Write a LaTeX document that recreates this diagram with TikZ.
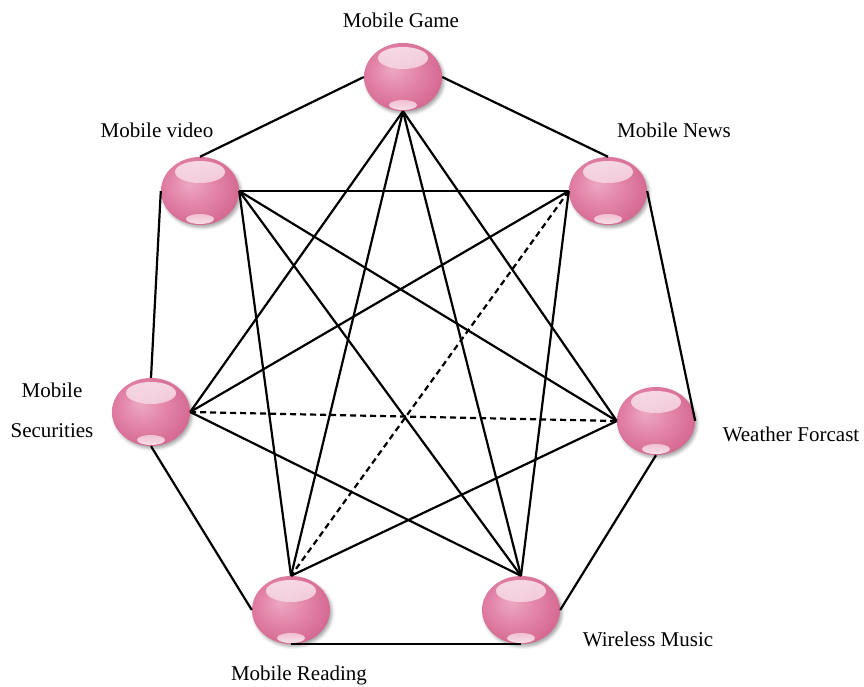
\documentclass[tikz,border=0pt]{standalone}
\usepackage{fontspec}
\setmainfont{Liberation Serif}
\usetikzlibrary{shapes.geometric,shadows.blur}
\definecolor{ballhi}{HTML}{EDA8C3}
\definecolor{ballmid}{HTML}{E386A9}
\definecolor{balllo}{HTML}{D4658F}
\pgfdeclareradialshading{pinkball}{\pgfpoint{-7bp}{6bp}}{%
  color(0bp)=(ballhi); color(14bp)=(ballmid); color(30bp)=(balllo); color(50bp)=(balllo)}
\tikzset{
  ball/.style={ellipse, minimum width=78pt, minimum height=68pt, inner sep=0pt,
    shade, shading=pinkball,
    blur shadow={shadow xshift=2pt, shadow yshift=-2.5pt, shadow blur radius=3pt, shadow opacity=35},
    path picture={
      \shade[top color=white!90!ballmid, bottom color=ballmid!65!white, fill opacity=0.8]
        ([yshift=19pt]path picture bounding box.center) ellipse [x radius=25pt, y radius=11pt];
      \shade[top color=ballmid!45!white, bottom color=white!85!ballmid, fill opacity=0.9]
        ([yshift=-28pt]path picture bounding box.center) ellipse [x radius=14pt, y radius=5pt];
    }},
  lbl/.style={font=\fontsize{21}{24}\selectfont, inner sep=0pt},
  edge/.style={line width=2.2pt, black},
  dedge/.style={edge, dash pattern=on 6pt off 4pt}
}
\begin{document}
\begin{tikzpicture}[x=1pt, y=-1pt]
  \useasboundingbox (0,0) rectangle (864,686);

  % services
  \node[ball] (game)    at (403,77)  {};
  \node[ball] (video)   at (200,191) {};
  \node[ball] (news)    at (608,191) {};
  \node[ball] (sec)     at (151,412) {};
  \node[ball] (weather) at (656,421) {};
  \node[ball] (read)    at (291,610) {};
  \node[ball] (music)   at (521,610) {};

  % labels
  \node[lbl] (lgame)    at (401,20)  {Mobile Game};
  \node[lbl] (lvideo)   at (157,130) {Mobile video};
  \node[lbl] (lnews)    at (674,130) {Mobile News};
  \node[lbl] (lsec1)    at (52,390)  {Mobile};
  \node[lbl] (lsec2)    at (52,431)  {Securities};
  \node[lbl] (lweather) at (791,434) {Weather Forcast};
  \node[lbl] (lread)    at (299,675) {Mobile Reading};
  \node[lbl] (lmusic)   at (648,639) {Wireless Music};

  % outer ring
  \draw[edge] (game.west) -- (video.north);
  \draw[edge] (game.east) -- (news.north);
  \draw[edge] (video.west) -- (sec.north);
  \draw[edge] (news.east) -- (weather.east);
  \draw[edge] (sec.south) -- (read.west);
  \draw[edge] (read.south) -- (music.south);
  \draw[edge] (music.east) -- (weather.south);

  % inner links
  \draw[edge] (game.south) -- (sec.east);
  \draw[edge] (game.south) -- (read.north);
  \draw[edge] (game.south) -- (music.north);
  \draw[edge] (game.south) -- (weather.west);
  \draw[edge] (video.east) -- (news.west);
  \draw[edge] (video.east) -- (weather.west);
  \draw[edge] (video.east) -- (music.north);
  \draw[edge] (video.east) -- (read.north);
  \draw[edge] (news.west) -- (sec.east);
  \draw[edge] (news.west) -- (music.north);
  \draw[edge] (sec.east) -- (music.north);
  \draw[edge] (weather.west) -- (read.north);
  \draw[dedge] (news.west) -- (read.north);
  \draw[dedge] (sec.east) -- (weather.west);
\end{tikzpicture}
\end{document}
